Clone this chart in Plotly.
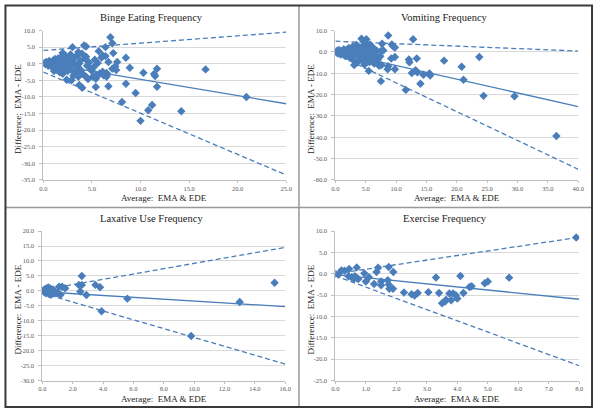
import plotly.graph_objects as go

W, H = 600, 414
BLUE = "#4a7ebb"
SERIF = "Liberation Serif, Times New Roman, DejaVu Serif, serif"

# ---- data ----
binge_x = [6.9, 7.1, 4.2, 4.4, 3.0, 6.4, 5.7, 7.2, 2.0, 3.6, 4.0, 6.1, 6.4, 4.4, 8.5, 7.6, 6.7,
           8.9, 7.4, 7.1, 7.5, 10.3, 11.4, 11.5, 11.7, 16.7, 6.1, 6.6, 6.5, 8.5, 6.7, 11.7, 9.5,
           20.9, 8.1, 11.2, 10.8, 10.0, 14.2, 5.4, 4.0, 3.7, 4.6, 5.1, 5.4, 5.5, 2.9, 2.4, 3.4, 3.6,
           0.1, 0.2, 0.3, 0.4, 0.5, 0.6, 0.7, 0.8, 0.9, 1.0, 1.1, 1.2, 1.3, 1.4, 1.5, 1.5, 1.6, 1.7,
           1.8, 1.9, 2.0, 2.0, 2.1, 2.2, 2.3, 2.4, 2.5, 2.6, 2.7, 2.8, 2.9, 3.0, 3.1, 3.2, 3.3, 3.4,
           3.5, 3.6, 3.8, 3.9, 4.1, 4.3, 4.5, 4.7, 4.9, 5.0, 5.2, 5.3, 5.6, 5.8, 6.0, 6.2, 6.5, 1.3,
           0.9, 1.8, 2.2, 2.6, 2.9, 1.1, 0.5, 1.6, 2.4, 3.7, 4.4, 5.5]
binge_y = [8.0, 6.2, 5.5, 5.2, 5.0, 5.0, 3.8, 3.2, 3.2, 3.5, 3.0, 2.5, 2.3, 2.1, 1.8, 0.5, 0.5,
           -1.2, -0.8, -1.5, -1.9, -2.7, -3.1, -3.7, -1.5, -1.7, -2.4, -3.2, -3.9, -6.0, -6.8, -6.9,
           -8.8, -10.0, -11.5, -12.4, -14.0, -17.2, -14.3, -7.0, -7.2, -6.4, -4.6, -3.9, -4.5, -3.4,
           -5.0, -4.8, -2.9, -3.9,
           0.2, -0.1, 0.5, 0.0, -0.6, 0.8, -0.3, 0.4, -1.0, 0.9, -0.5, 1.4, 0.2, -1.8, 1.6, -0.8, 0.6,
           -2.6, 1.9, -0.2, 3.2, -3.0, 1.0, -1.4, 2.2, 0.3, -2.2, 1.5, -0.9, 2.8, -1.9, 0.7, -3.6, 1.8,
           -0.4, -2.6, 2.5, -1.2, 0.9, -2.0, -3.2, 1.5, -0.6, 0.4, -1.5, -2.2, -1.0, 1.2, 0.2, -2.9,
           1.9, -3.5, -2.8, -1.2, 0.6, -0.6, 0.5, -0.4, 1.2, -2.2, 0.3, -1.5, -1.0, 0.1, -3.9, -3.9]

vomit_x = [8.7, 12.8, 4.3, 5.1, 4.8, 5.7, 7.7, 9.3, 9.5, 9.8, 7.5, 7.9, 23.7, 9.8, 9.2, 13.4, 12.1,
           12.2, 17.9, 20.8, 8.7, 7.6, 8.6, 9.8, 5.5, 13.2, 13.5, 12.6, 14.5, 15.5, 15.6, 21.1, 7.5,
           14.0, 11.6, 24.4, 29.5, 36.4,
           0.1, 0.2, 0.3, 0.5, 0.6, 0.8, 0.9, 1.1, 1.3, 1.4, 1.6, 1.8, 2.0, 2.2, 2.3, 2.5, 2.7, 2.9,
           3.0, 3.2, 3.3, 3.5, 3.6, 3.8, 3.9, 4.1, 4.2, 4.4, 4.5, 4.7, 4.8, 5.0, 5.1, 5.3, 5.4, 5.6,
           5.7, 5.9, 6.1, 6.2, 6.4, 6.6, 6.8, 7.0, 7.2, 7.4, 1.0, 1.9, 2.6, 3.4, 4.0, 4.6, 5.2, 6.0,
           3.1, 2.1, 1.2, 0.4]
vomit_y = [7.7, 5.9, 6.2, 5.9, 5.0, 3.5, 3.8, 3.5, 2.6, 2.1, 0.4, 0.7, -2.4, -2.4, -3.1, -3.1, -3.6,
           -4.9, -4.1, -7.0, -6.7, -6.2, -8.1, -8.1, -8.9, -8.6, -9.6, -9.9, -10.7, -10.1, -11.1,
           -13.1, -13.7, -14.9, -17.8, -20.6, -20.8, -39.4,
           0.2, -0.3, 0.5, -0.8, 0.9, 0.1, -1.2, 0.6, -0.5, 1.2, -1.8, 0.3, -0.9, 1.8, -2.5, 0.8, -0.3,
           2.6, -3.8, 1.0, -1.5, 3.2, -5.0, -0.6, 1.9, -2.8, 0.4, -4.2, 2.8, -1.0, -6.0, 0.9, -3.2, 3.0,
           -1.8, -4.8, 1.5, -0.5, -2.6, 2.0, -5.5, -1.2, 0.6, -3.6, -6.5, -2.0, -0.2, 0.9, -1.3, 0.2,
           -0.3, -2.2, -0.9, -4.0, -6.2, 0.0, 0.2, 0.0]

laxative_x = [2.6, 2.4, 2.6, 3.5, 3.8, 1.1, 1.3, 1.5, 15.3, 2.5, 2.9, 5.6, 13.0, 3.9, 9.8, 1.0, 1.2,
              0.0, 0.05, 0.1, 0.12, 0.15, 0.2, 0.22, 0.25, 0.3, 0.32, 0.35, 0.4, 0.42, 0.45, 0.5,
              0.52, 0.55, 0.6, 0.65, 0.7, 0.2, 0.3, 0.9]
laxative_y = [5.0, 2.0, 2.0, 2.0, 1.2, 1.4, 1.4, 0.9, 2.7, -0.2, -1.4, -2.6, -3.7, -6.8, -15.1, -0.7,
              -1.3, 0.0, 0.1, -0.2, 0.3, -0.5, 0.6, -0.1, -0.8, 0.9, 0.2, -0.4, 1.1, -1.0, 0.4, -0.6,
              0.8, -1.3, 0.2, -0.9, 0.5, 0.0, -0.3, -0.8]

exercise_x = [7.9, 0.7, 1.4, 1.75, 1.9, 1.35, 0.45, 0.3, 0.2, 0.95, 3.3, 4.1, 5.7, 0.1, 0.0, 0.43,
              0.54, 0.64, 0.7, 0.75, 0.6, 1.0, 1.1, 1.27, 1.5, 1.5, 1.72, 1.75, 1.77, 1.89, 2.25, 2.5,
              2.6, 2.7, 3.05, 3.5, 3.6, 3.63, 3.8, 3.4, 3.74, 3.86, 3.95, 4.0, 4.2, 4.4, 4.47, 4.9, 5.0]
exercise_y = [8.5, 1.5, 1.4, 1.6, 0.4, 0.4, 1.1, 0.7, 0.8, 0.1, -0.85, -0.5, -0.9, -0.2, 0.0, -0.6,
              -0.8, -0.6, -1.0, -1.2, -1.2, -1.8, -0.8, -2.4, -1.8, -2.7, -1.5, -2.5, -3.5, -3.5,
              -4.4, -4.8, -5.1, -4.5, -4.3, -6.9, -6.5, -6.1, -6.2, -4.5, -4.6, -4.6, -5.0, -5.8, -4.5,
              -3.1, -2.9, -2.2, -1.8]

# (intercept, slope) of bias line and limits of agreement
binge_fit = [(0.2, -0.49), (4.0, 0.22), (-2.5, -1.24)]
vomit_fit = [(0.0, -0.64), (5.0, -0.115), (-1.0, -1.35)]
laxative_fit = [(-0.3, -0.31), (0.3, 0.89), (-0.8, -1.48)]
exercise_fit = [(-0.2, -0.72), (0.0, 1.07), (-0.5, -2.63)]

titles = ["Binge Eating Frequency", "Vomiting Frequency", "Laxative Use Frequency", "Exercise Frequency"]

# panel setup: data, x range/dtick, y range/dtick, plot box in px (left, right, top, bottom)
panels = [
    (binge_x, binge_y, binge_fit, (0, 25, 5), (-35, 10, 5), (40, 287, 27, 179)),
    (vomit_x, vomit_y, vomit_fit, (0, 40, 5), (-60, 10, 10), (337, 584, 27, 179)),
    (laxative_x, laxative_y, laxative_fit, (0, 16, 2), (-30, 20, 5), (39, 286, 231, 383)),
    (exercise_x, exercise_y, exercise_fit, (0, 8, 1), (-25, 10, 5), (337, 585, 231, 383)),
]


def frange(a, b, step):
    vals, v = [], a
    while v <= b + 1e-9:
        vals.append(round(v, 6))
        v += step
    return vals


fig = go.Figure()
annotations = []
tick_font = dict(family=SERIF, size=6.5, color="#595959")

for i, (xs, ys, fit, xr, yr, box) in enumerate(panels):
    n = "" if i == 0 else str(i + 1)
    left, right, top, bottom = box
    xa, ya = "x" + n, "y" + n

    fig.add_trace(go.Scatter(x=xs, y=ys, mode="markers", xaxis=xa, yaxis=ya,
                             marker=dict(symbol="diamond", size=6.5, color=BLUE),
                             showlegend=False))
    for k, (b0, b1) in enumerate(fit):
        fig.add_trace(go.Scatter(x=[xr[0], xr[1]], y=[b0 + b1 * xr[0], b0 + b1 * xr[1]],
                                 mode="lines", xaxis=xa, yaxis=ya, showlegend=False,
                                 line=dict(color=BLUE, width=1.3,
                                           dash="solid" if k == 0 else "5px,3px")))

    xticks = frange(xr[0], xr[1], xr[2])
    yticks = frange(yr[0], yr[1], yr[2])
    fig.layout["xaxis" + n] = dict(
        domain=[left / W, right / W], range=[xr[0], xr[1]], anchor=ya,
        tickvals=xticks, ticktext=[f"{v:.1f}" for v in xticks], tickfont=tick_font,
        showgrid=False, zeroline=False, showline=True, linecolor="#bfbfbf", linewidth=1,
        ticks="outside", ticklen=2, tickcolor="#bfbfbf", ticklabelstandoff=0)
    fig.layout["yaxis" + n] = dict(
        domain=[1 - bottom / H, 1 - top / H], range=[yr[0], yr[1]], anchor=xa,
        tickvals=yticks, ticktext=[f"{v:.1f}" for v in yticks], tickfont=tick_font,
        showgrid=True, gridcolor="#d9d9d9", gridwidth=1, zeroline=False,
        showline=True, linecolor="#bfbfbf", linewidth=1, ticks="outside", ticklen=3,
        tickcolor="#bfbfbf", ticklabelstandoff=3)

    # panel texts
    ox = 0 if i % 2 == 0 else 298
    oy = 0 if i < 2 else 204
    annotations += [
        dict(text=titles[i], x=(ox + 150) / W, y=1 - (oy + 14) / H,
             font=dict(family=SERIF, size=10.5, color="#1a1a1a")),
        dict(text="Average:  EMA & EDE", x=(ox + 163) / W, y=1 - (oy + 197.5) / H,
             font=dict(family=SERIF, size=9, color="#1a1a1a")),
        dict(text="Difference:  EMA - EDE", x=(ox + 14) / W, y=1 - (oy + 107) / H, textangle=-90,
             font=dict(family=SERIF, size=9, color="#1a1a1a")),
    ]

for a in annotations:
    a.update(xref="paper", yref="paper", showarrow=False, xanchor="center", yanchor="middle")

shapes = [
    dict(type="line", x0=300 / W, x1=300 / W, y0=1 - 410 / H, y1=1 - 2 / H,
         line=dict(color="#999999", width=1.5)),
    dict(type="line", x0=2 / W, x1=598 / W, y0=1 - 207 / H, y1=1 - 207 / H,
         line=dict(color="#999999", width=1.5)),
    dict(type="rect", x0=1.5 / W, x1=598 / W, y0=1 - 410 / H, y1=1 - 1.5 / H,
         line=dict(color="#3a3a3a", width=2)),
]
for s in shapes:
    s.update(xref="paper", yref="paper", layer="above")

fig.update_layout(width=W, height=H, margin=dict(l=0, r=0, t=0, b=0),
                  paper_bgcolor="white", plot_bgcolor="white",
                  annotations=annotations, shapes=shapes)

# drop the browser's default 8px body margin so the figure sits at the page corner
fig.write_html("out.html", config={"displayModeBar": False},
               post_script="document.body.style.margin='0';")
